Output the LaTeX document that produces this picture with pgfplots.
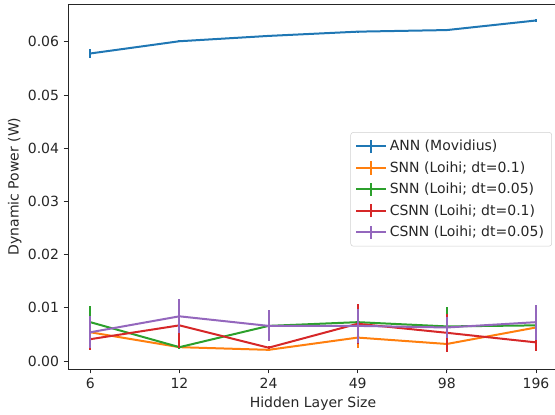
\documentclass[border=0pt]{standalone}
\usepackage{fontspec}
\setmainfont{DejaVu Sans}
\usepackage{pgfplots}
\pgfplotsset{compat=1.18}
\definecolor{c0}{HTML}{1F77B4}
\definecolor{c1}{HTML}{FF7F0E}
\definecolor{c2}{HTML}{2CA02C}
\definecolor{c3}{HTML}{D62728}
\definecolor{c4}{HTML}{9467BD}
\pgfplotstableread{
x y e
0 0.0578 0.0009
1 0.0601 0.0002
2 0.0611 0.0001
3 0.0619 0.0002
4 0.0622 0.0001
5 0.0640 0.0002
}\ann
\pgfplotstableread{
x y e
0 0.0054 0.0003
1 0.0026 0.0002
2 0.0021 0.0002
3 0.0044 0.0020
4 0.0032 0.0010
5 0.0063 0.0004
}\snnA
\pgfplotstableread{
x y e
0 0.0073 0.0030
1 0.0026 0.0003
2 0.0066 0.0003
3 0.0073 0.0005
4 0.0065 0.0036
5 0.0067 0.0003
}\snnB
\pgfplotstableread{
x y e
0 0.0041 0.0020
1 0.0067 0.0043
2 0.0025 0.0003
3 0.0070 0.0038
4 0.0053 0.0036
5 0.0035 0.0016
}\csnnA
\pgfplotstableread{
x y e
0 0.0054 0.0030
1 0.0084 0.0032
2 0.0066 0.0029
3 0.0066 0.0032
4 0.0063 0.0020
5 0.0073 0.0033
}\csnnB
\newcommand{\fs}{\fontsize{10.5}{12.5}\selectfont}
\pgfplotsset{errstyle/.style={line width=1.5pt, error bars/.cd, y dir=both, y explicit, error mark=none, error bar style={line width=1.5pt}}}
\begin{document}
\begin{tikzpicture}
\begin{axis}[
  scale only axis, width=365.25pt, height=273.75pt,
  xmin=-0.25, xmax=5.213, ymin=-0.0015, ymax=0.0671,
  axis x line=box, axis y line=left,
  axis line style={-, line width=0.6pt, black!85},
  xtick={0,1,2,3,4,5}, xticklabels={6,12,24,49,98,196},
  ytick={0,0.01,0.02,0.03,0.04,0.05,0.06},
  scaled y ticks=false,
  tick align=outside, xtick pos=bottom, ytick pos=left,
  major tick length=3.2pt,
  every tick/.style={black!85, line width=0.6pt},
  tick label style={font=\fs, text=black!85},
  yticklabel style={/pgf/number format/.cd, fixed, fixed zerofill, precision=2, assume math mode=true},
  xticklabel style={/pgf/number format/assume math mode=true},
  xlabel={Hidden Layer Size}, ylabel={Dynamic Power (W)},
  xlabel style={font=\fs, text=black!85, at={(axis description cs:0.503,-0.095)}, anchor=center},
  ylabel style={font=\fs, text=black!85, at={(axis description cs:-0.1095,0.5)}, anchor=center},
  legend style={at={(rel axis cs:0.9938,0.649)}, anchor=north east, draw=black!18, rounded corners=2pt, fill=white, font=\fs, text=black!85, inner sep=3.5pt, row sep=2pt, nodes={inner sep=2.3pt}},
  legend cell align=left,
  legend image code/.code={
    \draw[line width=1.5pt] (0pt,0pt) -- (22pt,0pt);
    \draw[line width=1.5pt] (11pt,-5pt) -- (11pt,5pt);
  },
]
\addplot[c0, errstyle] table[x=x, y=y, y error=e] {\ann};
\addlegendentry{ANN (Movidius)}
\addplot[c1, errstyle] table[x=x, y=y, y error=e] {\snnA};
\addlegendentry{SNN (Loihi; dt=0.1)}
\addplot[c2, errstyle] table[x=x, y=y, y error=e] {\snnB};
\addlegendentry{SNN (Loihi; dt=0.05)}
\addplot[c3, errstyle] table[x=x, y=y, y error=e] {\csnnA};
\addlegendentry{CSNN (Loihi; dt=0.1)}
\addplot[c4, errstyle] table[x=x, y=y, y error=e] {\csnnB};
\addlegendentry{CSNN (Loihi; dt=0.05)}
\end{axis}
\pgfresetboundingbox
\useasboundingbox ([xshift=-51pt,yshift=-34.5pt]current axis.south west) rectangle ([yshift=3pt]current axis.north east);
\end{tikzpicture}
\end{document}
